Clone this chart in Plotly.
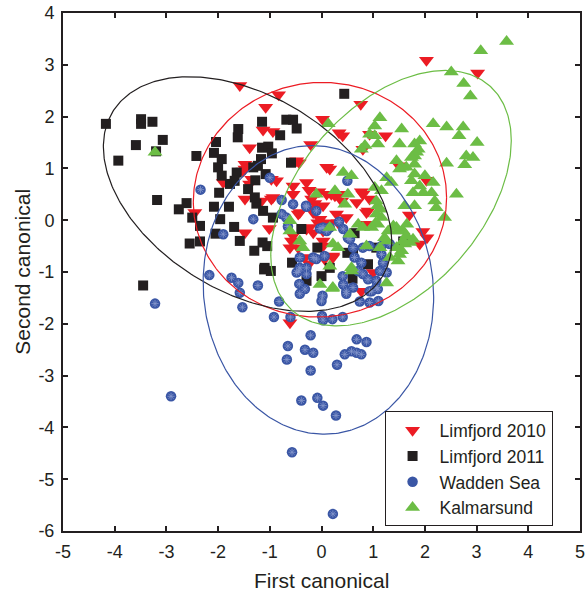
import numpy as np
import plotly.graph_objects as go

# ---------------- data ----------------
lim10_x = [-1.58, -0.83, -1.08, 0.02, -1.13, -0.94, -1.39, -0.21, -1.48, -0.48, -0.43, -0.97, -0.87, -1.90,
           -1.48, -1.39, -1.35, -0.55, -0.29, -0.24, -0.05, -1.48, -1.16, -0.97, -0.55, -0.13, 0.03, -0.42,
           -0.16, -2.45, -1.01, -1.48, -0.55, -0.58, -0.61, -0.45, -0.29, -0.16, -0.07, 0.03, -0.61, -0.24,
           2.03, 3.02, 0.76, 0.34, 0.41, 0.93, 1.24, 0.80, 0.16, 1.50, 2.03, 0.77, 0.93, 0.39, 0.19, -0.13,
           0.68, 0.90, 1.70, 0.29, 0.48, -0.03, 0.13, -0.23, 0.03, 0.84, 1.96, 2.04, 0.22, -0.32, 1.90,
           -0.45, -0.19, 0.10, 0.26, 0.35, 0.80, 0.87, 0.16, 0.32, 0.03, 0.22, 0.06, 1.00, 0.77, -1.52,
           0.10, -0.94]
lim10_y = [2.60, 2.42, 2.18, 1.95, 1.74, 1.71, 1.40, 1.46, 1.08, 1.15, 1.11, 0.79, 0.76, 0.73,
           0.99, 0.70, 0.79, 0.66, 0.73, 0.58, 0.55, 0.41, 0.37, 0.41, 0.50, 0.32, 0.28, 0.15,
           0.15, 0.15, -0.16, -0.24, -0.30, -0.40, -0.53, -0.53, -0.17, -0.24, -0.05, -0.40, -1.98, -0.84,
           3.09, 2.84, 2.24, 1.69, 1.63, 1.66, 1.63, 1.37, 0.99, 1.05, 0.77, 0.55, 0.41, 0.37, 0.50, 0.21,
           0.34, 0.18, 0.10, 0.12, 0.05, 0.02, -0.05, -0.14, -0.21, -0.08, -0.22, -0.34, -0.72, -0.72, -0.46,
           0.12, 0.41, 0.50, 0.47, 0.50, 0.50, 0.15, -0.08, -0.05, -0.50, -0.69, -0.75, -1.01, -1.37, 0.95,
           1.02, 0.44]

lim11_x = [-4.17, -3.49, -3.49, -3.27, -3.07, -3.59, -3.93, -3.20, -2.42, -2.04, -2.08, -1.93, -2.00, -1.93,
           -1.64, -1.62, -1.61, -1.98, -1.77, -3.18, -2.76, -2.61, -2.08, -1.79, -2.50, -2.35, -1.96, -1.69,
           -2.05, -2.55, -2.35, -1.58, -1.15, -0.68, -0.55, -0.48, -0.80, -1.15, -1.03, -0.96, -1.17, -1.32,
           -1.28, -1.08, -0.59, -1.26, -1.13, -0.94, -1.14, -1.05, -1.30, -0.39, -0.08, -0.57, -1.10, -3.45,
           -1.11, -0.98, 0.00, -0.29, 0.44, 0.16, 0.50, 0.64, 0.90, 1.06, 1.58, 0.61, 0.60, -1.23, -1.68,
           -1.42, -1.29]
lim11_y = [1.86, 1.95, 1.86, 1.90, 1.55, 1.45, 1.15, 1.33, 1.24, 1.51, 1.30, 1.18, 1.02, 0.86,
           0.92, 1.60, 1.76, 0.53, 0.70, 0.39, 0.21, 0.33, 0.26, 0.26, 0.05, -0.11, 0.02, -0.13,
           -0.26, -0.45, -0.41, -0.40, 1.90, 1.94, 1.94, 1.77, 1.64, 1.40, 1.42, 1.29, 1.18, 1.02,
           0.77, 0.89, 1.11, 0.32, 0.18, 0.05, -0.43, -0.50, -0.59, -0.17, -0.53, -0.82, -0.92, -1.26,
           -0.95, -0.98, -1.08, -1.17, 2.44, -0.92, -0.63, -0.25, -0.85, -0.53, -0.41, -0.59, -1.13, 1.05, 0.76,
           0.60, 0.44]

wadden_x = [-3.22, -2.91, -2.17, -1.74, -1.61, -1.58, -1.53, -1.23, -0.92, -0.82, -0.60, -0.21, -0.65, -0.32,
            -0.16, -0.67, -0.21, 0.30, 0.45, 0.58, 0.68, 0.77, 0.68, 0.87, -0.39, -0.08, 0.03, 0.28, -0.57,
            0.22, -0.43, -0.32, -0.42, 0.02, 0.00, 0.01, 0.03, 0.21, 0.41, 0.48, 0.74, 0.93, 1.10, 0.97,
            1.06, 0.41, -0.48, -0.29, -2.34, -1.90, -1.00, -0.77, -0.55, -0.29, -1.32, -0.77, -0.68, -0.65,
            -0.10, -0.03, 0.10, -0.42, -0.16, -0.10, 0.06, -0.42, -0.29, 0.50, -0.30, 0.34, 0.42, 0.55,
            0.61, 0.64, 1.16, 1.16, 0.03, 0.16, 0.51, 0.80, 0.93, 1.13, 1.32, 0.42, 0.80, 0.90, 1.06,
            1.09, 1.13, 0.93, 0.61, 0.71, 0.77, 1.19, 1.26, 0.48, -0.44]
wadden_y = [-1.61, -3.40, -1.06, -1.11, -1.21, -1.40, -1.68, -1.26, -1.87, -1.57, -1.87, -2.22, -2.43, -2.50,
            -2.56, -2.69, -2.90, -2.79, -2.59, -2.53, -2.56, -2.59, -2.30, -2.35, -3.48, -3.43, -3.58, -3.77, -4.48,
            -5.67, -1.23, -1.33, -1.42, -1.46, -1.56, -1.85, -1.93, -1.91, -1.87, -1.42, -1.57, -1.59, -1.56, -1.37,
            -1.30, -1.08, -1.01, -1.04, 0.59, -0.27, 0.82, 0.39, 0.31, 0.26, 0.02, 0.12, 0.05, -0.12,
            0.18, -0.16, -0.21, -0.72, -0.72, -0.75, -0.69, -0.92, -0.92, 0.76, 0.28, -0.03, -0.17, -0.37,
            -0.53, -0.72, -0.50, -0.66, -0.14, -0.14, -0.34, -0.53, -0.50, -0.53, -0.46, -1.24, -1.04, -1.14, -1.17,
            -1.33, -0.98, -1.37, -1.30, -0.98, -0.82, -0.82, -1.01, -1.37, -0.98]

kalmar_x = [3.58, 3.08, 2.51, 2.75, 2.88, 2.16, 2.42, 2.74, 2.66, 3.01, 1.55, 1.80, 1.90, 1.87, 1.80, 1.51,
            1.80, 1.64, 1.55, 2.42, 2.80, 2.93, 2.77, 2.00, 2.16, 1.90, 1.97, 1.77, 2.13, 2.19, 2.22, 2.61,
            1.80, 1.61, 2.38, 1.65, 1.58, 1.61, 1.55, 1.13, 1.03, 0.13, 0.93, 1.03, 1.09, 0.84, 0.77, 1.84,
            1.74, 1.45, 1.51, 0.42, 0.58, 1.26, 1.35, 1.74, 1.80, 0.26, 1.03, 1.16, 0.51, 0.45, 1.09, 1.06,
            1.16, 1.09, 0.71, 0.80, 0.55, 1.39, 1.48, 1.64, 1.71, 1.77, 1.22, 1.29, 1.51, 1.48, 1.26, 0.22,
            0.32, 0.22, -0.03, 1.45, 1.58, 1.45, 1.26, 1.13, 1.32, 1.05, 0.97, 0.87, -0.36, 0.58, -3.22,
            -0.61, -0.61, 0.16, 0.16, -0.42, 0.21, 0.58, -0.10, 1.06, 1.13]
kalmar_y = [3.45, 3.27, 2.86, 2.64, 2.40, 1.86, 1.80, 1.80, 1.63, 1.50, 1.76, 1.47, 1.53, 1.37, 1.24, 1.47,
            1.08, 1.02, 1.02, 1.10, 1.24, 1.21, 1.07, 0.86, 0.73, 0.66, 0.53, 0.53, 0.53, 0.37, 0.24, 0.50,
            0.28, 0.28, 0.05, -0.08, -0.21, -0.46, -0.59, 1.98, 1.82, 1.86, 1.66, 1.63, 1.47, 1.44, 1.37, 1.31,
            1.21, 1.15, 0.99, 0.92, 0.86, 0.82, 0.73, 0.76, 0.89, 0.57, 0.63, 0.57, 0.50, 0.31, 0.28, 0.12,
            0.05, -0.08, -0.08, -0.14, -0.27, -0.11, -0.21, -0.30, -0.43, -0.37, -0.34, -0.21, -0.66, -0.79, -1.21, -0.46,
            -0.53, -1.30, -1.24, -0.14, -0.40, -0.53, -0.40, -0.53, -0.72, -0.05, -0.14, -0.50, -0.53, -0.92, 1.31,
            -0.01, -0.21, -0.14, -0.89, -0.40, -1.32, -0.98, 0.50, 0.37, 0.21]

# ellipses: centre and covariance-like shape (Sxx, Syy, Sxy)
ell_cx = [-0.03, -1.43, -0.06, 1.345]
ell_cy = [0.395, 0.505, -1.345, 0.425]
ell_sxx = [6.00, 7.78, 4.97, 5.41]
ell_syy = [5.13, 5.13, 7.76, 6.08]
ell_sxy = [0.10, -2.55, -0.31, 2.58]

series_names = ["Limfjord 2010", "Limfjord 2011", "Wadden Sea", "Kalmarsund"]
x_ticks = list(range(-5, 6))
x_ticklabels = [str(v) for v in x_ticks]
y_ticks = list(range(-6, 5))
y_ticklabels = [str(v) for v in y_ticks]
x_title = "First canonical"
y_title = "Second canonical"

# ---------------- style ----------------
RED = "#ec1c24"
BLACK = "#231f20"
BLUE = "#3a56a5"
GREEN = "#6cbd45"
FONT = "Liberation Sans, Arial, Helvetica, sans-serif"

fig = go.Figure()

fig.add_trace(go.Scatter(x=lim10_x, y=lim10_y, mode="markers", name=series_names[0],
                         marker=dict(symbol="triangle-down", size=13, color=RED, line=dict(width=0))))
fig.add_trace(go.Scatter(x=lim11_x, y=lim11_y, mode="markers", name=series_names[1],
                         marker=dict(symbol="square", size=10, color=BLACK, line=dict(width=0))))
fig.add_trace(go.Scatter(x=wadden_x, y=wadden_y, mode="markers", name=series_names[2],
                         marker=dict(symbol="circle", size=10.5, color=BLUE, line=dict(width=0))))
fig.add_trace(go.Scatter(x=wadden_x, y=wadden_y, mode="markers", showlegend=False, hoverinfo="skip",
                         marker=dict(symbol="asterisk-open", size=6, color="#8597cc",
                                     line=dict(width=0.8, color="#8597cc"))))
fig.add_trace(go.Scatter(x=kalmar_x, y=kalmar_y, mode="markers", name=series_names[3],
                         marker=dict(symbol="triangle-up", size=13, color=GREEN, line=dict(width=0))))

ell_colors = [RED, BLACK, BLUE, GREEN]
t = np.linspace(0, 2 * np.pi, 361)
for cx, cy, sxx, syy, sxy, col in zip(ell_cx, ell_cy, ell_sxx, ell_syy, ell_sxy, ell_colors):
    L = np.linalg.cholesky(np.array([[sxx, sxy], [sxy, syy]]))
    pts = L @ np.vstack([np.cos(t), np.sin(t)])
    fig.add_trace(go.Scatter(x=pts[0] + cx, y=pts[1] + cy, mode="lines", showlegend=False,
                             hoverinfo="skip", line=dict(color=col, width=1.2)))

axis_common = dict(showline=True, linecolor=BLACK, linewidth=2, mirror="ticks", ticks="inside",
                   ticklen=5, tickwidth=1.5, tickcolor=BLACK, showgrid=False, zeroline=False,
                   automargin=False, tickfont=dict(size=18, color=BLACK, family=FONT))

fig.update_layout(
    width=587, height=595,
    margin=dict(l=63, r=7, t=13, b=64),
    paper_bgcolor="white", plot_bgcolor="white",
    font=dict(family=FONT, color=BLACK),
    xaxis=dict(range=[-5, 5], tickvals=x_ticks, ticktext=x_ticklabels, ticklabelstandoff=3, **axis_common),
    yaxis=dict(range=[-6, 4], tickvals=y_ticks, ticktext=y_ticklabels, ticklabelstandoff=3, **axis_common),
    legend=dict(x=0.622, y=0.231, xanchor="left", yanchor="top", bgcolor="white",
                bordercolor=BLACK, borderwidth=1, font=dict(size=17.5, color=BLACK),
                tracegroupgap=0, itemwidth=44),
    showlegend=True,
    annotations=[
        dict(text=x_title, xref="paper", yref="paper", x=0.5, y=-0.0957, xanchor="center",
             yanchor="middle", showarrow=False, font=dict(size=21, color=BLACK)),
        dict(text=y_title, xref="paper", yref="paper", x=-0.0799, y=0.5, xanchor="center",
             yanchor="middle", textangle=-90, showarrow=False, font=dict(size=21, color=BLACK)),
    ],
)

fig.write_html("out.html", config={"displayModeBar": False},
               post_script="document.body.style.margin='0px';document.body.style.overflow='hidden';")
